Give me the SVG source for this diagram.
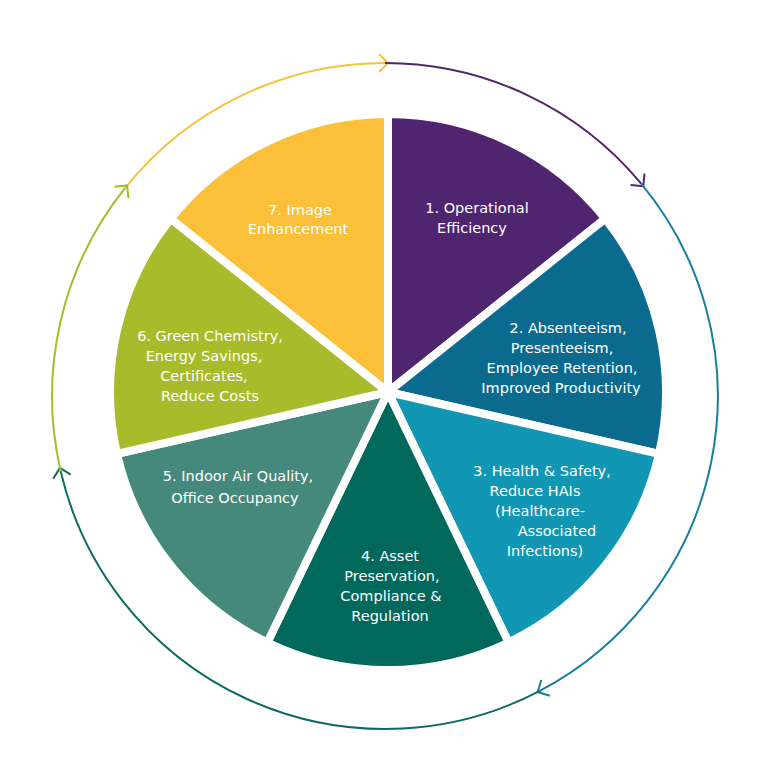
<svg xmlns="http://www.w3.org/2000/svg" width="768" height="768" viewBox="0 0 768 768">
<style>
.w{stroke:#fff;stroke-width:8;stroke-linejoin:round}
.t{fill:#fff;font-family:"DejaVu Sans",Verdana,sans-serif;font-size:14.5px;text-anchor:middle}
.r{fill:none;stroke-width:2}
</style>
<defs>
<marker id="my" markerWidth="20" markerHeight="20" refX="10" refY="10" orient="auto" markerUnits="userSpaceOnUse"><path d="M4,1 L13,10 L4,19" fill="none" stroke="#f5c240" stroke-width="2"/></marker>
<marker id="mp" markerWidth="20" markerHeight="20" refX="10" refY="10" orient="auto" markerUnits="userSpaceOnUse"><path d="M4,1 L13,10 L4,19" fill="none" stroke="#4f2570" stroke-width="2"/></marker>
<marker id="mb" markerWidth="20" markerHeight="20" refX="10" refY="10" orient="auto" markerUnits="userSpaceOnUse"><path d="M4,1 L13,10 L4,19" fill="none" stroke="#1a7f9c" stroke-width="2"/></marker>
<marker id="mg" markerWidth="20" markerHeight="20" refX="10" refY="10" orient="auto" markerUnits="userSpaceOnUse"><path d="M4,1 L13,10 L4,19" fill="none" stroke="#0e6b61" stroke-width="2"/></marker>
<marker id="ml" markerWidth="20" markerHeight="20" refX="10" refY="10" orient="auto" markerUnits="userSpaceOnUse"><path d="M4,1 L13,10 L4,19" fill="none" stroke="#a8bb2a" stroke-width="2"/></marker>
</defs>
<rect width="768" height="768" fill="#fff"/>
<g id="connectors">
<path class="r" stroke="#f5c240" marker-end="url(#my)" d="M125.2,187.8 A333,333 0 0 1 385,63"/>
<path class="r" stroke="#4f2570" marker-end="url(#mp)" d="M385,63 A333,333 0 0 1 641.4,183.9"/>
<path class="r" stroke="#1a7f9c" marker-end="url(#mb)" d="M641.4,183.9 A333,333 0 0 1 540.3,690.6"/>
<path class="r" stroke="#0e6b61" marker-end="url(#mg)" d="M540.3,690.6 A333,333 0 0 1 60.6,470.9"/>
<path class="r" stroke="#a8bb2a" marker-end="url(#ml)" d="M60.6,470.9 A333,333 0 0 1 125.2,187.8"/>
</g>
<g id="n1"><path class="w" fill="#4f2570" d="M388,392 L388,114 A278,278 0 0 1 605.3,218.7 Z"/>
<text class="t"><tspan x="477" y="213">1. Operational</tspan><tspan x="472" y="233">Efficiency</tspan></text></g>
<g id="n2"><path class="w" fill="#0a6b8e" d="M388,392 L605.3,218.7 A278,278 0 0 1 659,453.9 Z"/>
<text class="t"><tspan x="568" y="333">2. Absenteeism,</tspan><tspan x="562" y="353">Presenteeism,</tspan><tspan x="562" y="373">Employee Retention,</tspan><tspan x="561" y="393">Improved Productivity</tspan></text></g>
<g id="n3"><path class="w" fill="#1196b4" d="M388,392 L659,453.9 A278,278 0 0 1 508.6,642.5 Z"/>
<text class="t"><tspan x="542" y="476">3. Health &amp; Safety,</tspan><tspan x="535" y="496">Reduce HAIs</tspan><tspan x="540" y="516">(Healthcare-</tspan><tspan x="557" y="536">Associated</tspan><tspan x="545" y="556">Infections)</tspan></text></g>
<g id="n4"><path class="w" fill="#00695c" d="M388,392 L508.6,642.5 A278,278 0 0 1 267.4,642.5 Z"/>
<text class="t"><tspan x="390" y="561">4. Asset</tspan><tspan x="392" y="581">Preservation,</tspan><tspan x="391" y="601">Compliance &amp;</tspan><tspan x="390" y="621">Regulation</tspan></text></g>
<g id="n5"><path class="w" fill="#45897c" d="M388,392 L267.4,642.5 A278,278 0 0 1 117,453.9 Z"/>
<text class="t"><tspan x="238" y="481">5. Indoor Air Quality,</tspan><tspan x="235" y="503">Office Occupancy</tspan></text></g>
<g id="n6"><path class="w" fill="#a8bb2a" d="M388,392 L117,453.9 A278,278 0 0 1 170.7,218.7 Z"/>
<text class="t"><tspan x="210" y="341">6. Green Chemistry,</tspan><tspan x="204" y="361">Energy Savings,</tspan><tspan x="204" y="381">Certificates,</tspan><tspan x="210" y="401">Reduce Costs</tspan></text></g>
<g id="n7"><path class="w" fill="#fbbf3a" d="M388,392 L170.7,218.7 A278,278 0 0 1 388,114 Z"/>
<text class="t"><tspan x="300" y="215">7. Image</tspan><tspan x="298" y="234">Enhancement</tspan></text></g>
</svg>
